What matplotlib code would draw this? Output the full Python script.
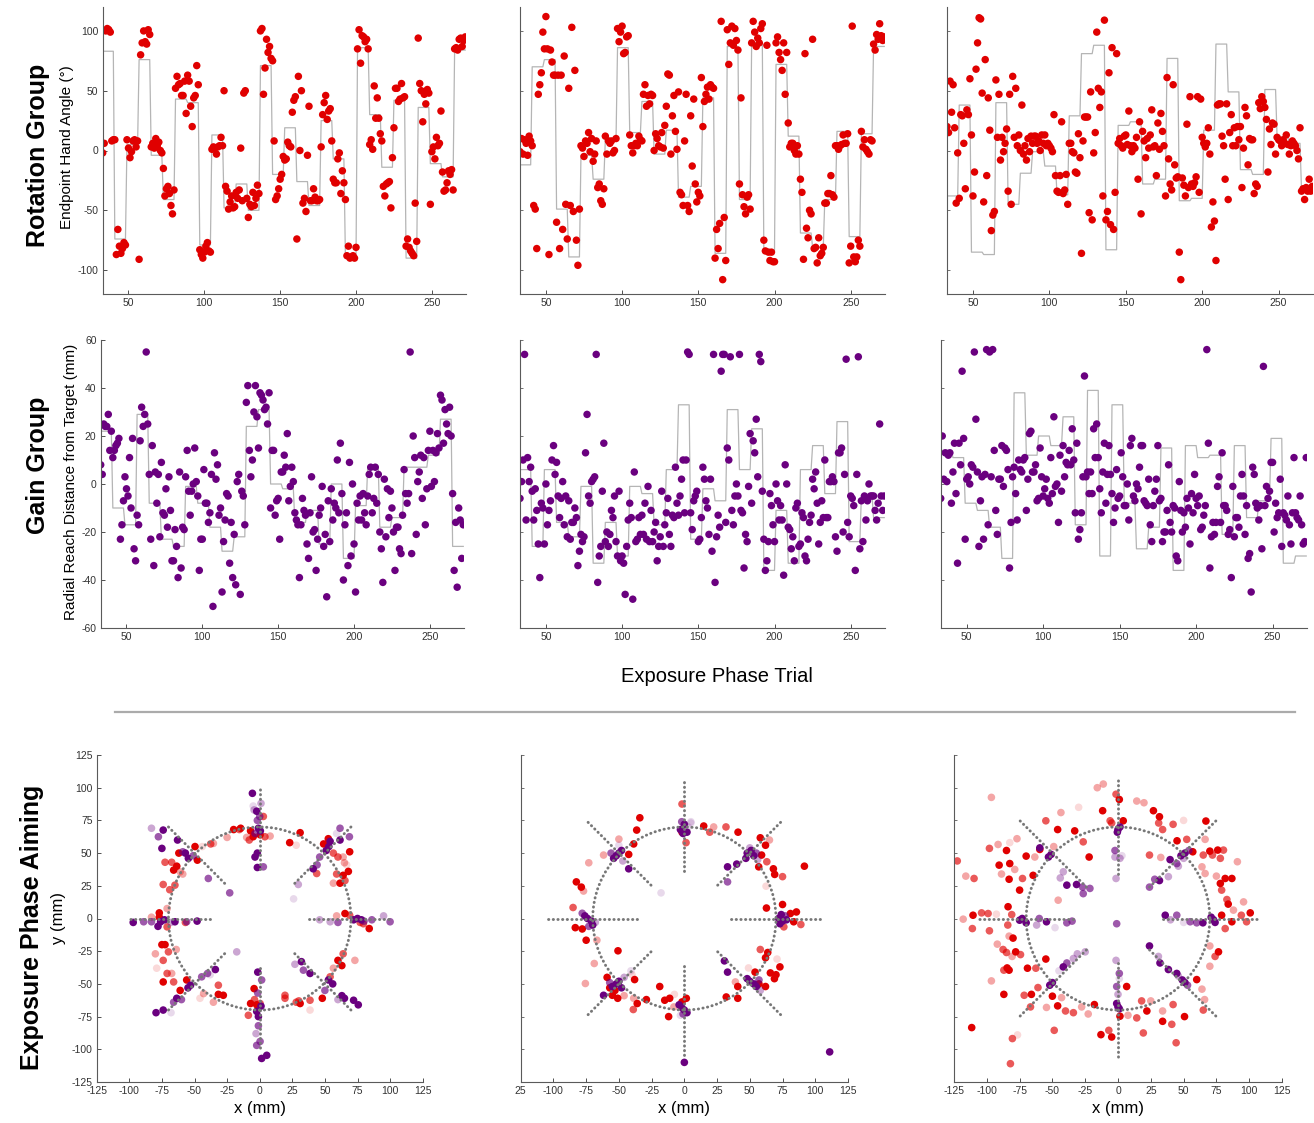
import numpy as np
import matplotlib.pyplot as plt
from matplotlib.lines import Line2D

plt.rcParams['font.family'] = ['Liberation Sans', 'DejaVu Sans']
plt.rcParams['axes.unicode_minus'] = False

RED = '#e00000'
PURPLE = '#6a007f'
STEP_GRAY = '#b5b5b5'
GUIDE_GRAY = '#777777'
AXIS_GRAY = '#5a5a5a'

# ---- exposure phase trials (33..272), blocks of 8 trials ----
first_trial = 33
block_len = 8

# rotation group: endpoint hand angle (deg), one value per trial
rot_left = [
    -2, 6, 100, 102, 101, 99, 8, 9,   9, -87, -66, -80, -86, -82, -77, -79,
    9, 2, -6, -1, 8, 9, 3, 8,   -91, 80, 90, 100, 91, 89, 101, 97,
    3, 6, 2, 10, 4, 7, 0, -2,   -15, -38, -32, -30, -36, -46, -53, -33,
    52, 62, 55, 56, 46, 46, 58, 31,   63, 58, 37, 20, 44, 46, 71, 55,
    -83, -87, -90, -85, -80, -77, -84, -85,   1, 3, 2, -3, 3, 4, 11, 4,
    50, -30, -34, -49, -43, -38, -48, -47,   -35, -40, -33, 2, -42, 48, 50, -40,
    -56, -45, -47, -35, -46, -40, -29, -36,   100, 102, 47, 69, 93, 82, 87, 77,
    75, 8, -41, -38, -32, -24, -20, -5,   -8, -7, 7, 4, 3, 32, 42, 45,
    -74, 62, 0, 50, -44, -40, -51, -4,   37, -42, -42, -32, -39, -42, -42, -41,
    3, 30, 40, 46, 26, 33, 35, 8,   -24, -27, -27, -7, -2, -36, -17, -27,
    -41, -88, -80, -90, -89, -88, -90, -81,   85, 101, 73, 96, 95, 91, 93, 85,
    5, 9, 1, 54, 27, 44, 27, 14,   8, -30, -38, -28, -27, -26, -48, -6,
    19, 52, 52, 41, 43, 56, 44, 45,   -80, -74, -81, -84, -86, -88, -44, -76,
    94, 56, 50, 24, 47, 39, 51, 48,   -45, -1, 3, -7, 11, 4, 6, 33,
    -18, -34, -33, -27, -17, -20, -16, -33,   85, 86, 84, 93, 94, 87, 92, 95,
]
rot_mid = [
    -1, 10, -3, 9, 6, -4, 12, 8,   4, -46, -49, -82, 47, 55, 65, 99,
    85, 112, 85, -87, 84, 74, 63, 63,   -60, 63, -82, 63, -66, 79, -45, -74,
    52, -46, 103, -51, 67, -75, -96, -49,   4, 2, -5, 8, 6, 15, -1, 10,
    -9, -3, 8, -31, -28, -42, -45, -32,   12, -3, 8, 6, 8, -2, 0, 10,
    102, 91, 99, 104, 81, 82, 95, 96,   13, 4, -2, 4, 6, 4, 12, 9,
    8, 47, 55, 37, 46, 39, 47, 46,   0, 14, 10, 4, 3, 15, 2, 21,
    37, 64, 63, -3, 29, 46, 16, 1,   49, -35, -37, -46, 8, 47, -46, -51,
    29, -13, 43, -28, -43, -35, -38, 61,   20, 41, 47, 53, 43, 55, 53, 52,
    -90, -66, -82, -61, 108, -108, -56, -92,   101, 72, 90, 104, 88, 102, 92, 84,
    -28, 44, -37, -47, -53, -39, -37, -49,   90, 108, 99, 87, 94, 90, 102, 106,
    -75, -84, 88, -85, -92, -85, -93, -93,   90, 95, 82, 76, 67, 90, 47, 82,
    23, 3, 6, 6, 0, -3, 4, -3,   -24, -35, -91, 81, -65, -73, -50, -53,
    93, -82, -81, -94, -73, -88, -86, -81,   -44, -44, -36, -36, -21, -37, -39, 4,
    4, 1, 4, 5, 13, 6, 6, 14,   -94, -80, 104, -89, -93, -89, -75, -80,
    16, 3, 9, 1, -1, -3, 9, 8,   89, 84, 97, 93, 106, 96, 92, 95,
]
rot_right = [
    20, 15, 58, 32, 55, 19, -44, -2,   -40, 30, 29, 6, -32, 34, 30, 60,
    13, -38, -18, 68, 90, 111, 110, 48,   -43, 76, -21, 44, 17, -67, -54, -51,
    59, 11, 47, -8, 11, -1, 6, 18,   -34, 47, -45, 62, 11, 52, 4, 13,
    0, 38, -3, 4, -8, 10, -1, 12,   6, 12, 12, 6, 8, 0, 13, 6,
    13, 4, 6, 4, 2, -1, 30, -21,   -34, -35, -21, 24, -36, -33, -20, -45,
    6, 6, -1, -2, -18, -19, 14, -6,   -86, 8, 28, 28, 28, -52, 49, -58,
    -2, 15, 99, 52, 36, 49, -38, 109,   -58, -51, 65, -62, 86, -66, -35, 81,
    6, 10, 4, 2, 12, 13, 5, 33,   4, -1, 4, 2, 11, -24, 24, -53,
    16, 8, -6, 10, 2, 13, 34, 3,   4, -21, 23, 1, 31, 16, 4, -38,
    61, -7, -28, -33, 55, -12, -23, -22,   -85, -108, -23, -29, -38, 22, -31, 45,
    -28, -30, -27, -22, 45, -35, 43, 11,   6, 3, 6, 19, -3, -64, -43, -59,
    -92, 38, 39, 39, 12, 4, -24, 39,   -41, 15, 30, 4, 19, 4, 20, 9,
    20, -31, 2, 36, 29, -12, 10, 9,   9, -36, -28, -30, 40, 35, 45, 41,
    36, 26, -18, 18, 5, 23, 22, -3,   11, 9, 8, 4, 9, 6, 13, 5,
    -3, 4, 8, 6, 4, 0, -7, 19,   -34, -32, -41, -31, -34, -24, -34, -30,
]
# rotation imposed in each block of 8 trials (deg)
rot_left_blocks = [83, -74, 5, 76, -4, -41, 43, 40, -79, 13, -48, -28, -50, 71, -20,
                   19, -26, -46, 25, -7, -89, 86, 30, -14, 42, -90, 36, -11, -22, 84]
rot_mid_blocks = [-12, 70, 76, -49, -89, -4, -24, 9, 86, 15, 41, -3, 17, -39, -30,
                  44, -86, 87, -41, 90, -84, 72, 12, -69, -81, -41, 16, -72, 14, 87]
rot_right_blocks = [-38, 38, -85, -87, 40, -45, -19, -1, -13, -37, 29, 81, 88, -83, 21,
                    24, -28, -24, 77, -42, -40, 17, 89, 49, -16, -20, 51, 11, 6, -34]

# gain group: radial reach distance from target (mm)
gain_left = [
    8, 4, 25, 24, 24, 29, 14, 22,   11, 14, 16, 17, 19, -23, -17, -7,
    3, -2, -5, 11, -10, 19, -27, -32,   -13, -17, 18, 32, 24, 29, 55, 25,
    4, -23, 16, -34, 5, -8, 4, -22,   9, -12, -13, -2, -18, 3, -11, -32,
    -32, -19, -26, -39, 5, -35, -18, -19,   3, 14, -3, -13, -3, 0, 15, 1,
    -5, -36, -23, -23, 6, -8, -8, -16,   -12, 4, -51, 13, 2, 8, -13, -10,
    -45, -24, -15, -4, -5, -33, -16, -39,   -21, -42, 1, 4, -46, -3, -5, -17,
    34, 41, 14, 3, 10, 30, 41, 28,   15, 38, 37, 35, 31, 32, 25, 38,
    -10, 14, 14, -13, -7, -6, -23, 5,   5, 12, 7, 21, -7, -1, 7, 1,
    -12, -15, -17, -39, -17, -6, -11, -13,   -25, -31, -12, 3, -20, -19, -36, -23,
    -13, -10, -1, -26, -21, -47, -7, -24,   -2, -15, -8, -10, 10, -12, 17, -4,
    -40, -17, -12, -34, 9, -30, 0, -25,   -45, -8, -15, -5, -15, -4, -12, -17,
    -5, 4, 7, -12, -6, 7, -8, 4,   -20, -27, -41, 2, -22, -2, -14, -3,
    -10, -20, -36, -18, -18, -27, -29, -13,   6, -4, -8, -4, 55, -29, 20, 11,
    -21, 1, 5, 12, -6, 11, -17, -2,   14, 22, -1, 14, 1, 13, 21, 15,
    37, 35, 17, 31, 25, 21, 32, 20,   -4, -36, -16, -43, -10, -15, -31, -17,
]
gain_mid = [
    -6, 1, 10, 54, -15, 11, 1, 7,   -3, -15, -2, -11, -25, -39, -8, -10,
    -25, 0, -17, -11, -7, 10, 16, 4,   9, -5, -14, -6, 1, -17, -5, -22,
    -7, -23, -16, -16, -10, -14, -34, -28,   -21, -24, -22, 13, 29, -5, -8, 1,
    2, 3, 54, -41, -30, -26, -3, 17,   -24, -20, -26, -21, -11, -14, -5, -24,
    -30, -3, -32, -30, -33, -46, -26, -15,   -8, -14, -48, 5, -24, -23, -14, -21,
    -13, -21, -8, -23, -1, -24, -11, -24,   -20, -16, -32, -26, -22, -3, -26, -17,
    -12, -6, -21, -26, -13, -14, 7, -8,   -13, -5, 2, 10, -12, 10, 55, 54,
    -12, -19, -7, -5, -3, -24, -23, -14,   7, 2, -7, -10, -21, 2, -28, 54,
    -41, -22, -13, -18, 47, 54, 54, -16,   15, 10, 53, -11, -17, -5, 0, -5,
    54, -11, -12, -35, -21, -24, -1, 21,   -8, 18, 13, 27, 3, 54, 51, -3,
    -23, -36, -32, -24, -4, -9, -17, -24,   0, -7, -15, -9, -15, -38, 8, 0,
    -18, -19, -27, -22, -32, -10, -8, -26,   -25, -12, -14, -30, -32, -23, -16, -13,
    2, -2, 5, -8, -25, -16, -7, -14,   10, -14, -14, 1, 1, 3, 1, -22,
    -28, 13, 13, 15, -20, 4, 52, -16,   -22, -5, -6, -9, -36, 4, 53, -27,
    -7, -24, -5, -15, -7, 0, -5, -5,   -5, -11, -15, -8, 25, -5, -11, -5,
]
gain_right = [
    -6, 20, 2, 13, 1, 12, 13, -8,   5, 17, -4, -33, 17, 8, 47, 19,
    -23, 2, 3, 0, 8, 7, 55, 27,   5, -26, -7, 3, -23, 4, 56, -17,
    55, 3, 56, 14, -11, -21, 2, 2,   16, -1, 15, 14, 6, -35, -16, 3,
    7, -4, -15, 10, 6, 5, 10, 11,   -11, 2, 21, 22, 5, 5, 8, -7,
    -6, 15, 3, -5, -2, 2, -6, -8,   11, -4, 28, -1, 0, -16, 12, -3,
    16, 3, 9, 8, 14, 8, 23, 10,   -12, 17, -23, -19, -12, 3, 45, 3,
    5, -4, 5, -4, 23, 11, 25, 11,   -2, -12, 5, 17, -8, 4, 16, 4,
    -4, -16, -10, 6, -6, -5, 13, 3,   -9, -9, 0, -15, 16, 19, -5, -7,
    0, -2, 7, 16, 16, -7, -8, -9,   2, -17, -24, -9, -3, 2, 16, -7,
    -6, -24, -20, -20, -11, 8, -16, -20,   -9, -10, -30, -32, 1, -11, -20, -12,
    -18, -6, -10, -25, -4, -12, 4, -6,   -9, -5, -19, -18, -13, -9, 56, 17,
    -35, -22, -16, -21, -16, -1, 3, -16,   13, -9, -9, -11, -21, -19, -39, -1,
    -22, -14, -14, -18, -5, 4, -5, -21,   -9, -31, -29, -45, 7, 4, -8, -10,
    -15, -9, -27, 49, -9, -1, -6, -3,   9, 9, -20, -8, -14, -12, 2, -26,
    -12, -13, -15, -5, -17, -25, -12, 11,   -12, -14, -15, -5, -17, -25, -24, 11,
]
gain_left_blocks = [22, -10, -17, 29, -8, -23, -26, -1, -8, -18, -28, -22, 24, 31, 0,
                    -2, -16, -11, -25, 0, -31, -9, 7, -18, -14, 7, 7, 12, 27, -26]
gain_mid_blocks = [6, -26, 6, -16, -22, -1, -33, -16, -30, -1, -4, -17, 6, 33, -23,
                   -2, -7, 31, 6, 23, -36, -11, -33, 6, 16, -4, 26, -24, -5, -14]
gain_right_blocks = [14, 11, -8, -11, -18, -31, 38, 12, 20, 16, 28, -17, 39, -30, 33,
                     -8, -27, -18, 15, -36, 16, 11, 12, -21, 16, -14, -7, 19, -33, -30]

# ---- aiming: (x mm, y mm, shade 1=faint..4=full) ----
target_angles = [0, 45, 90, 135, 180, 225, 270, 315]
target_radius = 70
ray_extent = [(38, 101), (36, 106), (34, 108)]

aim_red_left = [
    (2.8, 78, 3), (-8, 60, 3), (-7, 67, 4), (-5, 62.5, 4), (0.3, 64, 4), (4, 62.5, 3), (-15.6, 68, 3),
    (-20, 68, 4), (-14.6, 69, 4), (8, 63, 2), (-10, 62, 2), (31, 65.6, 4), (23, 58, 4), (28, 56, 1),
    (49, 57, 4), (52.6, 61, 4), (69, 51, 4), (56.5, 50, 3), (60, 47, 3), (64, 47, 2), (65, 42.6, 2),
    (66.7, 41, 1), (68, 36, 4), (64, 33, 4), (59, 34, 3), (61.6, 27, 4), (56.5, 27, 2), (65.4, 29, 3),
    (43.7, 34.4, 3), (65.4, 3.8, 4), (69, 2.5, 3), (59, 2, 2), (77, -3, 3), (79.5, -4, 3), (84, -7.7, 4),
    (73, -32, 2), (64, -27, 3), (60, -32, 4), (63, -36, 4), (56.5, -38, 2), (54, -44.6, 3), (48, -61, 4),
    (38.6, -62.5, 3), (31, -65, 4), (28, -64, 3), (19.4, -58.7, 3), (19.4, -61, 3), (38.6, -70, 1),
    (30, -63, 3), (-4.3, -53.6, 4), (-7, -65, 4), (-2.3, -66, 4), (-8.7, -74, 3), (-4, -62, 3),
    (0.3, -65, 3), (-27.9, -58.7, 4), (-31.7, -58, 4), (-43, -57.4, 2), (-45.8, -61, 1), (-35.5, -64, 2),
    (-31.7, -51, 3), (-56, -47, 4), (-61, -55, 4), (-66, -48.5, 3), (-74, -48.5, 4), (-71, -42, 3),
    (-67.5, -42, 2), (-79, -38, 1), (-74, -32, 3), (-75, -20, 4), (-72.6, -20, 4), (-70, -25.5, 3),
    (-64, -23.7, 2), (-80, -27, 2), (-77, 4.3, 4), (-77, 1, 4), (-83, 1, 2), (-71, 7.6, 2), (-71, -6.4, 3),
    (-57, -3, 3), (-65, 25.5, 3), (-69, 22, 3), (-74, 26, 3), (-66, 37, 4), (-63.6, 40, 4), (-67.5, 43, 3),
    (-72.6, 43, 3), (-62, 50, 4), (-49.6, 55, 4), (-47.8, 44.6, 4), (-61, 35.7, 2), (-59, 34, 2),
    (-35.5, 57.4, 2), (-37.6, 57, 3), (-44, 55, 1), (-25, 62, 2),
]
aim_purple_left = [
    (-5.6, 95.7, 4), (-2.3, 82, 4), (-4.3, 83, 2), (0, 78, 3), (-1.8, 75, 3), (-1, 69, 4), (0.5, 67, 4),
    (-3.6, 65, 3), (-1.8, 50, 4), (-3.6, 47, 4), (-1.8, 39, 4), (2.8, 39.5, 3), (-5, 86, 1), (1, 88, 2),
    (61.6, 69, 3), (68.8, 62.5, 3), (59, 65, 1), (61.6, 60, 4), (54, 59, 4), (51, 52, 4), (53, 55, 4),
    (46, 47, 3), (41, 38, 4), (44, 41, 3), (29.6, 26, 2), (26, 15, 1), (72, -1, 4), (75, 0, 4), (78, -1, 4),
    (80, -2, 3), (86, -1, 3), (95, 2, 2), (100, -2.5, 3), (54, -2.5, 2), (60, -3, 3), (46, -1, 2),
    (63, -59, 4), (65, -61, 4), (72, -62.5, 4), (75.6, -66, 4), (52.7, -47, 4), (50, -55, 3), (38.6, -42, 4),
    (33.5, -39.5, 3), (27, -35, 2), (32, -33, 4), (56, -50, 4), (60, -62, 2), (-1.5, -41, 4), (1.5, -47, 3),
    (-1.5, -57, 3), (-2.3, -71, 4), (-1, -75, 4), (-1, -82, 3), (-2.8, -88, 2), (0.3, -94, 3), (-2.3, -97, 3),
    (1.5, -107, 4), (5.4, -104.6, 4), (1, -67, 4), (-53, -51, 4), (-55, -53, 4), (-63.6, -61, 4),
    (-60, -62, 3), (-66, -64, 3), (-74, -70, 4), (-79.5, -72, 4), (-68, -72, 1), (-44.5, -44.6, 3),
    (-40, -42, 3), (-38, -43, 1), (-34, -39, 4), (-17.6, -25.5, 2), (-76, -2.5, 4), (-73, -1, 4),
    (-78, -6, 4), (-97, -3, 4), (-89, -2.5, 3), (-83, -2.5, 3), (-65, -2.5, 4), (-56, -2.5, 3), (-48, -2, 4),
    (-68, -3, 2), (-54.7, 46, 4), (-57, 50, 4), (-51, 48, 3), (-59, 51, 3), (-74, 67.6, 4), (-77.7, 62.5, 3),
    (-75, 53.6, 4), (-83, 69, 2), (-63, 60, 4), (-39.4, 30.6, 3), (-23, 19.6, 3),
]
aim_red_mid = [
    (-34, 77, 4), (-36.4, 67.6, 4), (-50, 60.7, 2), (-38.7, 57, 4), (-42.5, 49, 4), (-61.7, 48.5, 2),
    (-73, 42.6, 2), (-82.5, 28, 4), (-78.7, 24, 4), (-77, 21, 2), (-85, 8.4, 3), (-83.3, -7, 4), (-78, -8, 4),
    (-75, -16.6, 4), (-66.8, -16.6, 2), (-68.8, -34.4, 2), (-75.6, -49.7, 2), (-59, -45, 4), (-55, -58.7, 4),
    (-50.9, -61, 4), (-46, -59, 2), (-38.7, -61, 2), (-36, -65, 4), (-39, -69.6, 3), (-29, -62, 4),
    (-18.8, -52, 4), (-15, -62.5, 4), (-11.2, -61, 4), (-12, -75, 4), (-8, -67.6, 2), (-7.6, -58, 1),
    (-1.8, -63.8, 4), (1.5, -61, 4), (-50.7, -24.7, 4), (-38, -46.7, 4), (-53, -55, 4), (-57, -53, 4),
    (-1.8, 87.5, 3), (1.3, 58, 3), (-1.8, 66, 4), (14.8, 70.7, 4), (19.4, 66, 3), (22.4, 70, 2), (31.8, 70, 3),
    (41, 66, 4), (58, 61.7, 4), (65, 60, 2), (62, 56, 4), (59, 48.5, 4), (63, 43.4, 3), (68, 38, 4),
    (69, 33.7, 4), (75, 32, 3), (91.7, 40, 4), (56.8, 39.5, 4), (62.4, 24.7, 1), (62.7, 8, 4), (75, 10.7, 4),
    (81, 3.8, 4), (85.6, 5, 4), (76, -6.4, 3), (89, -4.6, 3), (83.5, -2.5, 4), (58, -23.7, 3), (63.7, -26, 4),
    (70.8, -31, 1), (62, -30, 4), (73, -37, 4), (65.7, -41.6, 4), (68.8, -46, 4), (70, -43, 4), (54, -41, 4),
    (49, -37.8, 1), (39, -48.5, 2), (40.8, -52, 4), (62, -52, 4), (40.8, -61, 4), (32, -60, 4), (57, -50, 4),
    (-40, -43, 1),
]
aim_purple_mid = [
    (-3, 68, 4), (0, 72, 4), (2, 66, 4), (-2, 74, 3), (3, 70, 1), (-1, 65, 4), (5, 73, 1),
    (48, 50, 4), (51, 52, 4), (53, 48, 4), (47, 46, 4), (55, 50, 3), (50, 54, 2), (56, 45, 2),
    (72, 0, 4), (75, -2, 4), (74, 3, 4), (78, -1, 4), (73, -4, 4), (77, 2, 3),
    (50, -48, 4), (53, -50, 4), (55, -52, 4), (48, -46, 4), (57, -47, 3), (58, -55, 2),
    (-2, -68, 4), (0, -70, 4), (2, -72, 4), (-4, -66, 4), (-1, -73, 3), (-3, -74, 1),
    (-52, -50, 4), (-50, -48, 4), (-55, -52, 4), (-48, -53, 4), (-57, -49, 3), (-46, -45, 2),
    (-74, 0, 4), (-71, -2, 4), (-76, 2, 4), (-70, -5, 4), (-78, 4, 3), (-68, -3, 2), (-73, -6, 3),
    (-52, 48, 4), (-50, 50, 4), (-54, 46, 4), (-48, 52, 4), (-56, 50, 3), (-47, 44, 2), (-50, 56, 1),
    (111, -102, 4), (0, -110, 4), (-42.5, 38, 4), (33, 39.5, 4), (40, 41.6, 4), (33, 28, 3),
    (30.6, -32.4, 4), (33, -41, 4), (-61.7, -58.7, 4), (-17.8, 19.6, 1), (-40.8, -40, 1), (5, 74, 1),
]
aim_red_right = [
    (-122.5, 44, 3), (-98, 53.6, 3), (-91.4, 56.6, 2), (-85, 52, 4), (-82.5, 58, 1), (-77, 61, 2),
    (-96.5, 92.6, 2), (-116, 32.4, 2), (-109.7, 30.6, 3), (-90.6, 40.8, 4), (-82.5, 42, 4), (-78.7, 37.5, 2),
    (-83, 30, 4), (-88.8, 34, 2), (-75, 21.7, 4), (-72.8, 30.6, 3), (-70, 47.7, 4), (-63.4, 47, 2),
    (-64.7, 33, 4), (-59.6, 52.8, 4), (-55, 74.7, 3), (-46, 68, 4), (-49, 55, 2), (-43.5, 81, 2),
    (-33, 67, 4), (-26.5, 58.6, 3), (-22, 47, 4), (-45.6, 14, 2), (-110.5, 2.5, 4), (-104, 4.3, 3),
    (-99, 3.8, 3), (-118, -0.5, 2), (-111, -7.7, 3), (-98, -9.4, 3), (-92.7, 3.3, 1), (-83.8, 9, 4),
    (-81, 3, 3), (-84, -5, 3), (-83, -13.5, 2), (-80, -15, 4), (-92, -19.6, 2), (-87.6, -23.7, 3),
    (-85, -26, 3), (-78, -25.5, 4), (-74.3, -27.6, 3), (-80.7, -29, 2), (-55, -31, 4), (-62.6, -38, 3),
    (-69, -38, 4), (-84.5, -37.8, 4), (-83, -39.5, 4), (-87, -39.5, 3), (-96.5, -47.7, 2), (-87, -58, 4),
    (-71.5, -58.7, 3), (-66, -58, 4), (-61, -52.8, 3), (-66.7, -67.6, 3), (-54.5, -68, 2), (-50, -59.4, 4),
    (-46, -66.8, 4), (-43, -60.5, 2), (-40, -70.7, 3), (-34, -72, 3), (-27.7, -67.6, 2), (-22.7, -73, 2),
    (-18, -65.8, 4), (-111.5, -83.4, 4), (-80.5, -91.8, 3), (-82, -111, 3), (-76.6, -89, 1),
    (-48.6, -85.5, 3), (-13, -88.8, 4), (-7, -85.5, 3), (-4.8, -90.6, 4), (1.5, -74.7, 4), (6.6, -52, 4),
    (7.6, -74, 2), (14.3, -76, 3), (19.3, -87.5, 3), (22, -70.7, 4), (34, -78.6, 4), (41, -80.9, 3),
    (44.3, -95, 3), (50.7, -75, 4), (42, -65.8, 3), (34, -70.7, 2), (25, -63, 2), (18, -63, 3),
    (60, -46.7, 4), (64, -54, 2), (65, -70, 3), (66, -62, 2), (70, -36.5, 2), (70, -21, 2), (76.6, -25.5, 4),
    (74, -29, 3), (81.7, -7.7, 3), (86.8, -2.5, 4), (94, 2.5, 3), (98, -2.5, 3), (100.8, 4.3, 4), (79, 2.5, 4),
    (88, 6.4, 2), (95.7, 12.7, 2), (84, 11, 4), (83, 14.5, 3), (79, 21.7, 3), (78, 26.8, 4), (81.7, 30.6, 4),
    (86.8, 30.6, 4), (75, 32.4, 2), (66.4, 34.4, 2), (64, 39.5, 2), (65, 48.5, 3), (70, 51.5, 4),
    (72, 48.5, 3), (76, 52.3, 4), (78, 46, 3), (80.4, 52.3, 3), (91, 43.4, 2), (66.4, 60.5, 2), (67, 74.5, 4),
    (57, 51, 4), (52.4, 60.5, 3), (45, 59.4, 4), (42, 72, 3), (34, 68, 3), (31, 73, 3), (31.6, 77.8, 4),
    (27, 82.4, 4), (19.8, 88.5, 2), (14.3, 89.8, 2), (4, 74.7, 4), (1, 91, 4), (-1.5, 95, 3), (-11.7, 82.4, 4),
    (-6, 74.7, 3), (-4.8, 73, 3), (-11.2, 102.8, 2), (-15.8, 100, 2), (24, 48.5, 3), (32.6, 46.7, 2),
    (50, 75, 1), (-30, 85, 1),
]
aim_purple_right = [
    (48, 48, 4), (51, 50, 4), (54, 52, 3), (50, 46, 2), (39.7, 45, 4), (44.8, 42, 3), (38.4, 32, 2),
    (31.6, 29, 4), (28, 30, 3), (24, 24, 3), (46, 40, 2), (72.8, -1, 4), (71, 1, 4), (74, -3, 4),
    (64.7, -3.3, 4), (60, -3.3, 3), (55, -2.5, 3), (44.8, 2.5, 3), (36, 2.5, 4), (40, -1, 2), (50, -3, 1),
    (51, -49, 4), (49, -47, 4), (53, -51, 3), (44.8, -42, 4), (38.4, -39, 4), (32, -34, 4), (24, -21, 4),
    (30.8, -29, 2), (46, -44, 2), (0, -67.6, 4), (-1, -65, 4), (1, -69, 4), (-1, -52, 3), (1, -42, 3),
    (-1.5, -32, 2), (-1, -4, 3), (1, -46, 1), (0, -58, 2), (-52, -51, 4), (-50, -49, 4), (-41.7, -37, 4),
    (-39, -34, 3), (-34, -30.6, 2), (-31, -27, 2), (-25, -25.5, 2), (-45, -40, 1), (-75, -1.3, 4),
    (-73, 0, 4), (-70, -3.3, 4), (-60, 0, 3), (-54.5, -2.5, 4), (-39, -3.3, 3), (-35, -2, 3), (-48, -7, 1),
    (-62, -5, 2), (-53, 47, 4), (-51, 49, 4), (-59.6, 54, 4), (-41.7, 35.7, 2), (-39, 25.5, 4),
    (-31.6, 26, 4), (-27, 24, 3), (-26.5, 19, 3), (-21.4, 23, 3), (-44, 31, 2), (-0.5, 66, 4), (1.5, 70, 4),
    (0, 68, 4), (-2.3, 52, 3), (-2.3, 47, 2), (1.5, 46, 2), (-1.5, 30.6, 2), (3, 48, 1),
]

shade_alpha = {1: 0.15, 2: 0.35, 3: 0.65, 4: 1.0}

W, H = 1314, 1123
fig = plt.figure(figsize=(W / 100, H / 100), dpi=100)


def box(x0, y0, x1, y1):
    # pixel box (top-left origin) -> figure fraction rect
    return [x0 / W, 1 - y1 / H, (x1 - x0) / W, (y1 - y0) / H]


def style(ax, ylabels=True):
    for s in ['top', 'right']:
        ax.spines[s].set_visible(False)
    for s in ['left', 'bottom']:
        ax.spines[s].set_color(AXIS_GRAY)
        ax.spines[s].set_linewidth(0.8)
    ax.tick_params(direction='in', length=3, width=0.6, colors='#333333',
                   labelsize=7.5, pad=3)
    if not ylabels:
        ax.tick_params(axis='y', labelleft=False, length=2, colors=AXIS_GRAY)


def trial_panel(rect, values, blocks, color, ylim, yticks, ylabels):
    ax = fig.add_axes(rect)
    trials = np.arange(first_trial, first_trial + len(values))
    ax.plot(trials, np.repeat(blocks, block_len)[:len(values)], color=STEP_GRAY, lw=0.9, zorder=1)
    ax.scatter(trials, values, s=29, color=color, edgecolors='none', zorder=2)
    ax.set_xlim(33, 272.5)
    ax.set_ylim(*ylim)
    ax.set_xticks([50, 100, 150, 200, 250])
    ax.set_yticks(yticks)
    style(ax, ylabels)
    return ax


rot_rects = [box(102.7, 7, 466, 294), box(520, 7, 885, 294), box(947, 7, 1313, 294)]
gain_rects = [box(100.7, 340, 464, 628), box(520, 340, 885, 628), box(940.7, 340, 1307, 628)]

for i, (vals, blk) in enumerate([(rot_left, rot_left_blocks), (rot_mid, rot_mid_blocks),
                                  (rot_right, rot_right_blocks)]):
    trial_panel(rot_rects[i], vals, blk, RED, (-120, 120), [-100, -50, 0, 50, 100], i == 0)

for i, (vals, blk) in enumerate([(gain_left, gain_left_blocks), (gain_mid, gain_mid_blocks),
                                  (gain_right, gain_right_blocks)]):
    trial_panel(gain_rects[i], vals, blk, PURPLE, (-60, 60), [-60, -40, -20, 0, 20, 40, 60], i == 0)

aim_rects = [box(96.7, 755, 422.7, 1082), box(520.7, 755, 848, 1082), box(954, 755, 1282, 1082)]
aim_sets = [(aim_red_left, aim_purple_left), (aim_red_mid, aim_purple_mid),
            (aim_red_right, aim_purple_right)]
ticks125 = [-125, -100, -75, -50, -25, 0, 25, 50, 75, 100, 125]

for i, (reds, purples) in enumerate(aim_sets):
    ax = fig.add_axes(aim_rects[i])
    for pts, col in [(reds, RED), (purples, PURPLE)]:
        for level, alpha in shade_alpha.items():
            sel = [p for p in pts if p[2] == level]
            if sel:
                ax.scatter([p[0] for p in sel], [p[1] for p in sel], s=30, color=col,
                           alpha=alpha, edgecolors='none', zorder=2)
    dots = (0, (0.1, 1.5))
    circ = plt.Circle((0, 0), target_radius, fill=False, color=GUIDE_GRAY, lw=2.1,
                      linestyle=dots, capstyle='round', zorder=3)
    ax.add_patch(circ)
    r0, r1 = ray_extent[i]
    for ang in target_angles:
        c, s = np.cos(np.radians(ang)), np.sin(np.radians(ang))
        ax.plot([r0 * c, r1 * c], [r0 * s, r1 * s], color=GUIDE_GRAY, lw=2.1,
                linestyle=dots, dash_capstyle='round', zorder=3)
    ax.set_xlim(-125, 125)
    ax.set_ylim(-125, 125)
    ax.set_xticks(ticks125)
    ax.set_yticks(ticks125)
    style(ax, i == 0)
    if i == 1:
        ax.set_xticklabels(['25'] + [str(t) for t in ticks125[1:]])
    fig.text((aim_rects[i][0] + aim_rects[i][2] / 2), 1 - 1108 / H, 'x (mm)',
             ha='center', va='center', fontsize=12)

# row labels and axis titles
fig.text(38 / W, 1 - 155 / H, 'Rotation Group', rotation=90, ha='center', va='center',
         fontsize=18, fontweight='bold')
fig.text(38 / W, 1 - 465 / H, 'Gain Group', rotation=90, ha='center', va='center',
         fontsize=18, fontweight='bold')
fig.text(32 / W, 1 - 927 / H, 'Exposure Phase Aiming', rotation=90, ha='center', va='center',
         fontsize=18, fontweight='bold')
fig.text(67 / W, 1 - 147 / H, 'Endpoint Hand Angle (°)', rotation=90, ha='center', va='center',
         fontsize=11)
fig.text(71 / W, 1 - 482 / H, 'Radial Reach Distance from Target (mm)', rotation=90,
         ha='center', va='center', fontsize=11)
fig.text(58 / W, 1 - 918 / H, 'y (mm)', rotation=90, ha='center', va='center', fontsize=12)
fig.text(717 / W, 1 - 676 / H, 'Exposure Phase Trial', ha='center', va='center', fontsize=14.5)

fig.add_artist(Line2D([115 / W, 1295 / W], [1 - 712 / H, 1 - 712 / H], color='#ababab', lw=1.6))

fig.savefig('out.png', dpi=100, facecolor='white')
